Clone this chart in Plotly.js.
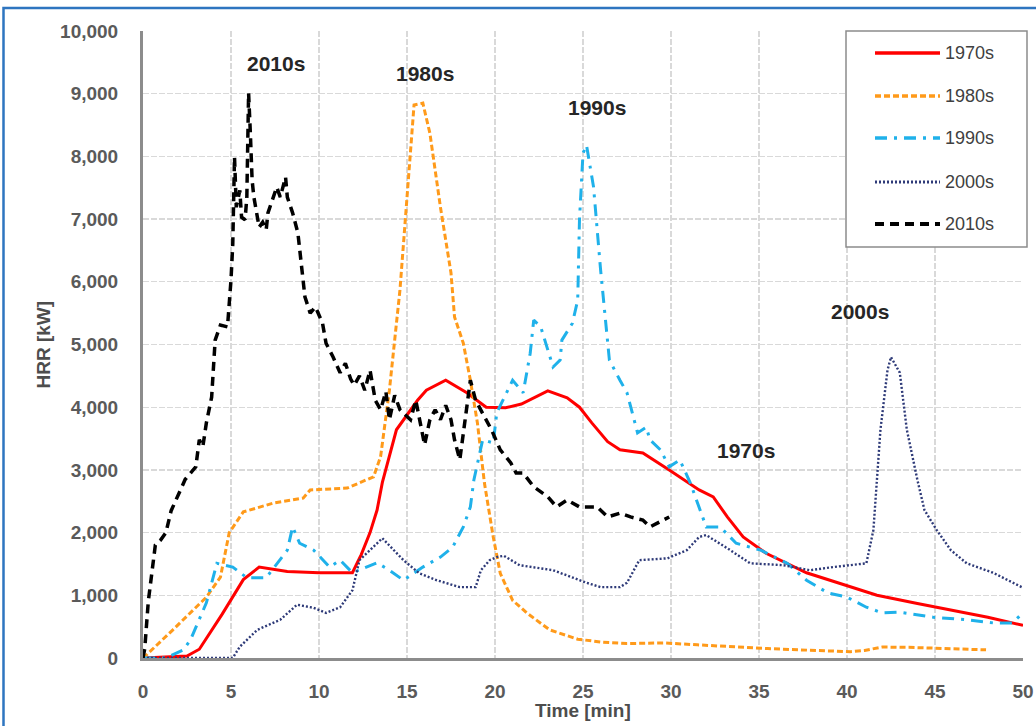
<!DOCTYPE html>
<html>
<head>
<meta charset="utf-8">
<script src="https://cdn.plot.ly/plotly-3.0.1.min.js"></script>
<style>
  html, body { margin: 0; padding: 0; background: #ffffff; }
  #chart { width: 1036px; height: 726px; }
</style>
</head>
<body>
<div id="chart"></div>
<script>
// ---------- data ----------
const seriesNames = ["1970s", "1980s", "1990s", "2000s", "2010s"];

const t1970 = [0, 2.5, 3.2, 4.5, 5.7, 6.6, 8.2, 10, 11.9, 12.4, 12.9, 13.3, 13.6, 14.4, 15.6, 16.1, 17.2, 18.4, 19.5, 20.6, 21.5, 23.0, 24.1, 24.8, 25.5, 26.4, 27.1, 28.4, 29.9, 31.6, 32.4, 33.2, 34.1, 35.4, 37.7, 40, 41.7, 44, 45.9, 48, 50];
const v1970 = [0, 30, 140, 700, 1250, 1450, 1380, 1360, 1360, 1650, 2000, 2360, 2800, 3640, 4110, 4270, 4430, 4230, 4000, 3990, 4050, 4260, 4150, 4000, 3750, 3450, 3320, 3270, 3000, 2680, 2570, 2250, 1930, 1670, 1360, 1150, 1000, 870, 770, 650, 520];

const t1980 = [0, 0.2, 1.7, 3.6, 4.4, 4.9, 5.7, 7.4, 9.1, 9.5, 11.6, 13.1, 13.5, 14.0, 14.6, 15.2, 15.4, 15.9, 16.3, 16.9, 17.5, 17.7, 18.2, 18.6, 19.0, 19.4, 19.9, 20.3, 21.0, 21.8, 23.1, 24.7, 26.0, 27.5, 29.6, 31.5, 33.5, 35.5, 37.3, 39, 40.2, 41, 42.0, 43.5, 44.9, 46.5, 47.9];
const v1980 = [0, 50, 450, 970, 1290, 2000, 2330, 2470, 2550, 2680, 2710, 2890, 3210, 4270, 5870, 8100, 8820, 8850, 8370, 7190, 6140, 5440, 5020, 4430, 3750, 2790, 1930, 1350, 920, 720, 450, 300, 255, 230, 240, 210, 175, 150, 130, 110, 100, 120, 175, 170, 160, 140, 130];

const t1990 = [0, 1.3, 2.3, 2.7, 3.6, 4.2, 5.1, 5.9, 7.0, 8.2, 8.5, 8.9, 9.7, 10.6, 11.2, 11.9, 13.3, 14.0, 14.8, 15.9, 16.9, 17.6, 18.2, 18.6, 18.8, 19.3, 19.9, 20.1, 21.0, 21.6, 22.0, 22.2, 22.6, 23.0, 23.3, 23.7, 23.8, 24.4, 24.7, 24.8, 25.0, 25.2, 25.6, 26.0, 26.5, 27.1, 27.5, 28.1, 28.6, 28.8, 29.4, 29.9, 30.5, 31.1, 31.5, 32.0, 32.8, 33.7, 35.1, 36.6, 37.7, 38.9, 40.0, 41.1, 42.0, 43.0, 44.9, 46.8, 48.3, 49.4, 50];
const v1990 = [0, 0, 130, 290, 880, 1510, 1450, 1280, 1280, 1720, 2090, 1830, 1720, 1450, 1560, 1360, 1520, 1400, 1240, 1450, 1610, 1770, 2090, 2410, 2840, 3480, 3430, 3910, 4430, 4230, 4860, 5390, 5280, 4910, 4640, 4750, 5070, 5340, 5710, 6990, 8050, 8180, 7510, 6190, 4750, 4430, 4230, 3590, 3680, 3480, 3320, 3050, 3160, 2790, 2470, 2090, 2090, 1830, 1720, 1510, 1240, 1040, 970, 810, 720, 730, 650, 610, 560, 560, 720];

const t2000 = [0, 5.1, 5.5, 6.5, 7.8, 8.75, 9.7, 10.4, 11.2, 11.9, 12.3, 13.0, 13.6, 14.8, 15.7, 16.7, 18.0, 18.9, 19.2, 19.7, 20.1, 20.5, 21.4, 23.3, 25.2, 26.0, 27.1, 27.5, 28.2, 29.8, 30.9, 31.6, 32.0, 33.2, 34.5, 36.4, 37.9, 39.2, 41.1, 41.5, 41.9, 42.3, 42.5, 43.0, 43.4, 44.0, 44.4, 45.1, 45.9, 46.8, 48.3, 50];
const v2000 = [0, 0, 180, 450, 610, 850, 800, 720, 810, 1080, 1560, 1750, 1910, 1560, 1350, 1240, 1130, 1130, 1400, 1560, 1610, 1630, 1480, 1400, 1200, 1130, 1130, 1200, 1560, 1590, 1720, 1930, 1960, 1750, 1510, 1480, 1400, 1450, 1510, 2040, 3640, 4590, 4800, 4550, 3640, 2840, 2360, 2040, 1720, 1510, 1360, 1120];

const t2010 = [0, 0.1, 0.3, 0.5, 0.7, 1.0, 1.3, 1.6, 2.1, 2.4, 2.7, 3.0, 3.2, 3.4, 3.6, 3.9, 4.1, 4.4, 4.8, 5.0, 5.1, 5.2, 5.3, 5.5, 5.6, 5.8, 5.9, 6.0, 6.1, 6.2, 6.3, 6.6, 6.8, 7.0, 7.1, 7.3, 7.6, 7.8, 8.1, 8.2, 8.5, 8.8, 9.0, 9.2, 9.5, 9.8, 10.2, 10.4, 10.8, 11.2, 11.5, 11.8, 12.0, 12.3, 12.6, 12.9, 13.2, 13.5, 13.8, 14.0, 14.3, 14.6, 14.9, 15.2, 15.5, 15.7, 16.0, 16.3, 16.6, 16.9, 17.2, 17.5, 17.7, 18.0, 18.3, 18.6, 18.9, 19.3, 19.8, 20.3, 20.9, 21.2, 21.6, 22.2, 23.0, 23.5, 24.1, 24.8, 25.8, 26.4, 27.1, 27.7, 28.4, 28.8, 29.5, 29.9];
const v2010 = [0, 150, 900, 1400, 1800, 1880, 2000, 2350, 2680, 2850, 2950, 3050, 3480, 3370, 3750, 4160, 5070, 5310, 5280, 6030, 6600, 7990, 7190, 7460, 7030, 6990, 7350, 9010, 8370, 7620, 7350, 6870, 6950, 6830, 7100, 7260, 7510, 7350, 7670, 7350, 7100, 6780, 6240, 5760, 5500, 5600, 5340, 5020, 4800, 4550, 4700, 4450, 4350, 4500, 4270, 4590, 4110, 3960, 4250, 3800, 4190, 3960, 3880, 3800, 4110, 3800, 3400, 3800, 3960, 3800, 4030, 3800, 3480, 3160, 3800, 4430, 4110, 3900, 3640, 3320, 3110, 2950, 2950, 2730, 2570, 2410, 2520, 2410, 2410, 2250, 2310, 2250, 2200, 2090, 2200, 2250];

const xTicks = [0, 5, 10, 15, 20, 25, 30, 35, 40, 45, 50];
const yTicks = [0, 1000, 2000, 3000, 4000, 5000, 6000, 7000, 8000, 9000, 10000];

// ---------- styles ----------
const FONT = "Liberation Sans, Arial, sans-serif";
const styles = [
  { color: "#ff0000", width: 3,   dash: "solid" },
  { color: "#ff9a1a", width: 3,   dash: "6px,3px" },
  { color: "#1fb1ea", width: 3,   dash: "12px,7px,3px,7px" },
  { color: "#2e3a78", width: 2.4, dash: "2px,2px" },
  { color: "#000000", width: 3.5, dash: "9px,6px" }
];
const xs = [t1970, t1980, t1990, t2000, t2010];
const ys = [v1970, v1980, v1990, v2000, v2010];

const traces = seriesNames.map((n, i) => ({
  type: "scatter", mode: "lines", name: n,
  x: xs[i], y: ys[i],
  line: { color: styles[i].color, width: styles[i].width, dash: styles[i].dash },
  showlegend: false, hoverinfo: "skip"
}));

// plot-area pixel geometry -> paper coords
const W = 1036, H = 726, L = 143, R = 13, T = 31, B = 68;
const pw = W - L - R, ph = H - T - B;
const px = x => (x - L) / pw;
const py = y => (H - B - y) / ph;

const shapes = [];
const annotations = [];

// outer blue frame
shapes.push({ type: "rect", xref: "paper", yref: "paper",
  x0: px(3.5), x1: px(1045), y0: py(740), y1: py(8),
  line: { color: "#2e75c0", width: 2.5 }, fillcolor: "rgba(0,0,0,0)", layer: "above" });

// manual legend (long line samples like the reference)
shapes.push({ type: "rect", xref: "paper", yref: "paper",
  x0: px(846), x1: px(1027), y0: py(247), y1: py(31),
  line: { color: "#8c8c8c", width: 1.5 }, fillcolor: "#ffffff", layer: "above" });
const legRows = [53, 96, 138, 182, 224];
seriesNames.forEach((n, i) => {
  shapes.push({ type: "line", xref: "paper", yref: "paper",
    x0: px(875), x1: px(940), y0: py(legRows[i]), y1: py(legRows[i]),
    line: { color: styles[i].color, width: styles[i].width + 0.5, dash: styles[i].dash }, layer: "above" });
  annotations.push({ xref: "paper", yref: "paper", x: px(943), y: py(legRows[i]),
    xanchor: "left", yanchor: "middle", showarrow: false, text: n,
    font: { family: FONT, size: 18, color: "#404040" } });
});

// in-plot series labels
const seriesLabels = [
  { text: "2010s", x: 276, y: 63 },
  { text: "1980s", x: 425, y: 73 },
  { text: "1990s", x: 597, y: 107 },
  { text: "2000s", x: 860, y: 311 },
  { text: "1970s", x: 746, y: 451 }
];
seriesLabels.forEach(s => annotations.push({
  xref: "paper", yref: "paper", x: px(s.x), y: py(s.y), xanchor: "center", yanchor: "middle",
  showarrow: false, text: "<b>" + s.text + "</b>",
  font: { family: FONT, size: 21, color: "#262626" }
}));

// axis titles
annotations.push({ xref: "paper", yref: "paper", x: 0.5, y: py(710), xanchor: "center", yanchor: "middle",
  showarrow: false, text: "<b>Time [min]</b>", font: { family: FONT, size: 19, color: "#4d4d4d" } });
annotations.push({ xref: "paper", yref: "paper", x: px(43), y: 0.5, xanchor: "center", yanchor: "middle",
  textangle: -90, showarrow: false, text: "<b>HRR [kW]</b>", font: { family: FONT, size: 19, color: "#4d4d4d" } });

const tickFont = { family: FONT, size: 19, color: "#5a5a5a", weight: "bold" };

const layout = {
  width: W, height: H,
  margin: { l: L, r: R, t: T, b: B },
  paper_bgcolor: "#ffffff", plot_bgcolor: "#ffffff",
  showlegend: false,
  xaxis: {
    range: [0, 50], tickvals: xTicks, ticktext: xTicks.map(String),
    showgrid: true, gridcolor: "#d9d9d9", gridwidth: 1.3, griddash: "6px,2px",
    showline: true, linecolor: "#8c8c8c", linewidth: 3, zeroline: false,
    ticks: "", ticklabelstandoff: 14,
    tickfont: tickFont
  },
  yaxis: {
    range: [0, 10000], tickvals: yTicks, ticktext: yTicks.map(v => v.toLocaleString("en-US")),
    showgrid: true, gridcolor: "#d9d9d9", gridwidth: 1.3, griddash: "6px,2px",
    showline: true, linecolor: "#8c8c8c", linewidth: 3, zeroline: false,
    ticks: "", ticklabelstandoff: 18,
    tickfont: tickFont
  },
  shapes: shapes,
  annotations: annotations
};

Plotly.newPlot("chart", traces, layout, { displayModeBar: false, staticPlot: true });
</script>
</body>
</html>
